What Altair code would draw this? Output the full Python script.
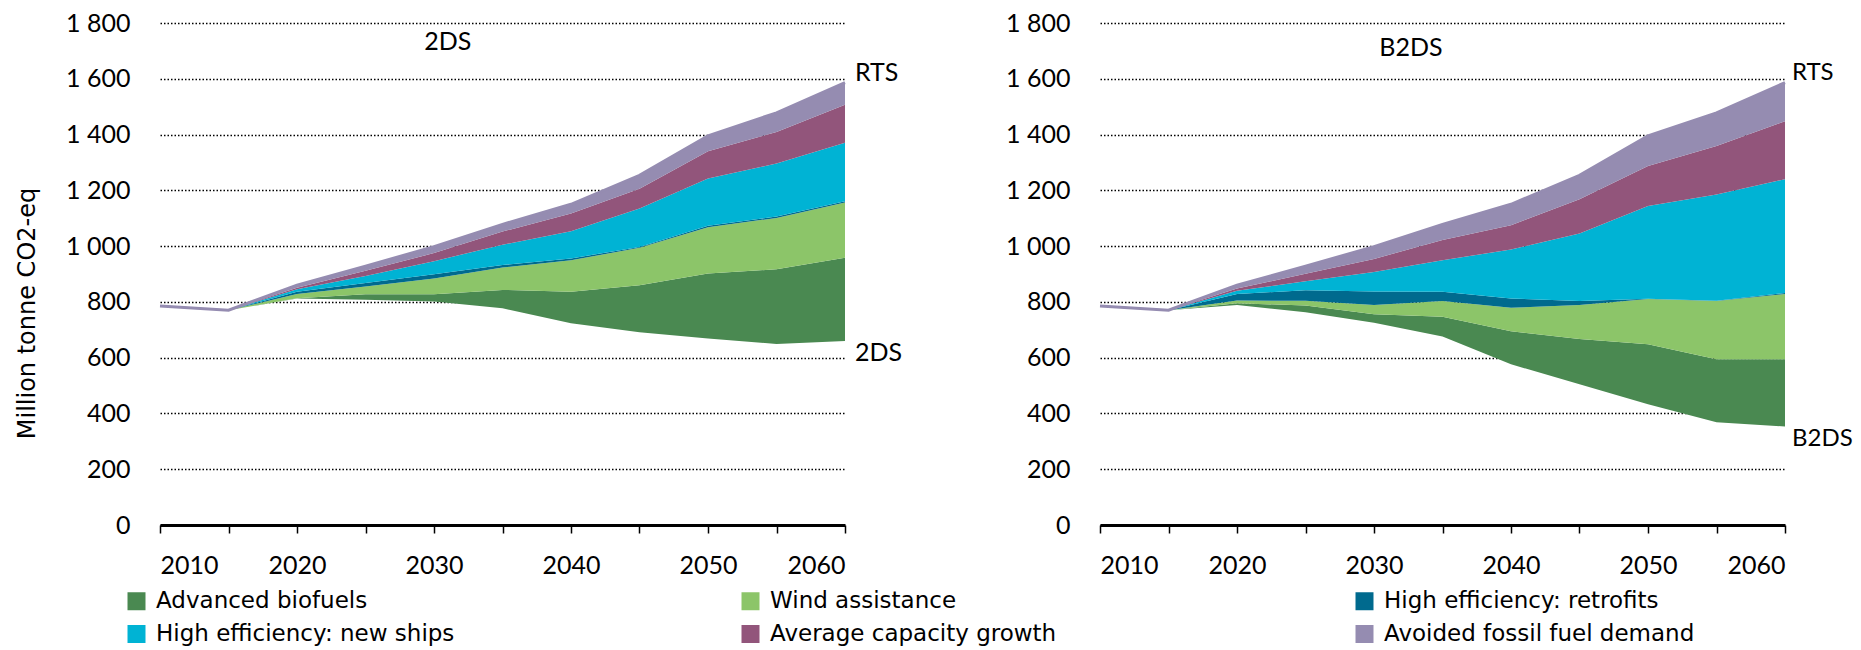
import altair as alt
import pandas as pd

years = [2010, 2015, 2020, 2025, 2030, 2035, 2040, 2045, 2050, 2055, 2060]
categories = ["Advanced biofuels", "Wind assistance", "High efficiency: retrofits",
              "High efficiency: new ships", "Average capacity growth",
              "Avoided  fossil fuel demand"]
colors = ["#4a8951", "#8cc569", "#006a8e", "#00b3d4", "#92557b", "#958cb1"]

rts = [785, 770, 860, 928, 998, 1078, 1150, 1254, 1395, 1478, 1586]

# 2DS panel: scenario line + wedges stacked on top of it
base_2ds = [785, 770, 812, 808, 801, 777, 723, 691, 669, 649, 660]
bio_2ds = [0, 0, 1, 19, 26, 66, 113, 169, 233, 268, 298]
wind_2ds = [0, 0, 15, 28, 57, 80, 113, 134, 166, 184, 198]
retro_2ds = [0, 0, 8, 13, 15, 9, 7, 3, 5, 5, 5]
new_2ds = [0, 0, 9, 25, 47, 73, 97, 138, 169, 190, 210]
cap_2ds = [0, 0, 6, 19, 29, 47, 64, 71, 98, 113, 136]
avoid_2ds = [0, 0, 9, 16, 23, 26, 33, 48, 55, 69, 79]

# B2DS panel
base_b2ds = [785, 770, 789, 763, 725, 676, 576, 505, 433, 368, 353]
bio_b2ds = [0, 0, 6, 24, 31, 71, 119, 162, 215, 226, 241]
wind_b2ds = [0, 0, 10, 17, 33, 56, 84, 122, 162, 209, 234]
retro_b2ds = [0, 0, 23, 38, 48, 33, 33, 14, 1, 1, 4]
new_b2ds = [0, 0, 12, 32, 70, 113, 176, 242, 333, 381, 408]
cap_b2ds = [0, 0, 8, 27, 47, 73, 87, 123, 143, 174, 208]
avoid_b2ds = [0, 0, 12, 27, 44, 56, 75, 86, 108, 119, 138]

# annotations (text, year, value)
ann_2ds_text = ["2DS", "RTS", "2DS"]
ann_2ds_year = [2031.0, 2060, 2060]
ann_2ds_val = [1732, 1620, 615]
ann_b2ds_text = ["B2DS", "RTS", "B2DS"]
ann_b2ds_year = [2032.7, 2060, 2060]
ann_b2ds_val = [1709, 1620, 307]

TICK_FONT = "Lato"
TICK_SIZE = 25
LEG_FONT = "DejaVu Sans"

W, H = 685, 502


def make_panel(base, series, ann_text, ann_year, ann_val, show_title, side_size, side_dx):
    rows = []
    for i, yr in enumerate(years):
        rows.append(dict(year=yr, cat="base", ord=0, val=base[i]))
        for k, (c, s) in enumerate(zip(categories, series)):
            rows.append(dict(year=yr, cat=c, ord=k + 1, val=s[i]))
    df = pd.DataFrame(rows)

    xaxis = alt.Axis(values=list(range(2010, 2061, 5)), format="d",
                     labelExpr="datum.value % 10 == 0 ? datum.label : ''",
                     title=None, grid=False, domainColor="black", domainWidth=3,
                     tickColor="black", tickWidth=1.5, tickSize=8,
                     labelPadding=20, labelFont=TICK_FONT, labelFontSize=TICK_SIZE,
                     labelColor="black")
    yaxis_kw = dict(values=list(range(0, 1801, 200)),
                    labelExpr="replace(format(datum.value, ','), ',', ' ')",
                    domain=False, ticks=False, grid=True, gridColor="black",
                    gridDash=[1.5, 2], gridWidth=1.4, labelPadding=30,
                    labelFont=TICK_FONT, labelFontSize=TICK_SIZE, labelColor="black")
    ytitle = "Million tonne CO2-eq" if show_title else None
    if show_title:
        yaxis = alt.Axis(title=ytitle, titleFont=LEG_FONT,
                         titleFontSize=24, titleFontWeight="normal", titleColor="black",
                         titlePadding=26, titleY=290, **yaxis_kw)
    else:
        yaxis = alt.Axis(title=None, **yaxis_kw)

    xs = alt.Scale(domain=[2010, 2060], nice=False)
    ys = alt.Scale(domain=[0, 1800], nice=False)

    areas = (
        alt.Chart(df)
        .transform_window(cum="sum(val)", groupby=["year"],
                          sort=[alt.SortField("ord")], frame=[None, 0])
        .transform_calculate(lo="datum.cum - datum.val")
        .transform_filter("datum.ord > 0")
        .mark_area(opacity=1)
        .encode(
            x=alt.X("year:Q", scale=xs, axis=xaxis),
            y=alt.Y("cum:Q", scale=ys, axis=yaxis, stack=None, title=ytitle),
            y2="lo:Q",
            color=alt.Color("cat:N", scale=alt.Scale(domain=categories, range=colors),
                            legend=alt.Legend(orient="none", legendX=-35, legendY=566.5,
                                              columns=3, direction="horizontal",
                                              title=None, symbolType="square",
                                              symbolSize=324, symbolStrokeWidth=0,
                                              labelFont=LEG_FONT, labelFontSize=23,
                                              labelColor="black", labelOffset=8,
                                              labelLimit=600, rowPadding=9,
                                              columnPadding=265, gridAlign="all")),
        )
    )

    line = (
        alt.Chart(pd.DataFrame({"year": years, "rts": rts}))
        .mark_line(color=colors[5], strokeWidth=3)
        .encode(x=alt.X("year:Q", scale=xs, axis=xaxis),
                y=alt.Y("rts:Q", scale=ys, axis=yaxis, title=ytitle))
    )

    adf = pd.DataFrame({"t": ann_text, "year": ann_year, "v": ann_val})
    title_txt = (
        alt.Chart(adf.iloc[:1])
        .mark_text(font=TICK_FONT, fontSize=TICK_SIZE, align="center", color="black")
        .encode(x=alt.X("year:Q", scale=xs), y=alt.Y("v:Q", scale=ys), text="t:N")
    )
    side_txt = (
        alt.Chart(adf.iloc[1:])
        .mark_text(font=TICK_FONT, fontSize=side_size, align="left", dx=side_dx,
                   color="black")
        .encode(x=alt.X("year:Q", scale=xs), y=alt.Y("v:Q", scale=ys), text="t:N")
    )

    return alt.layer(areas, line, title_txt, side_txt).properties(width=W, height=H)


left = make_panel(base_2ds, [bio_2ds, wind_2ds, retro_2ds, new_2ds, cap_2ds, avoid_2ds],
                  ann_2ds_text, ann_2ds_year, ann_2ds_val, True, 25, 10)
right = make_panel(base_b2ds, [bio_b2ds, wind_b2ds, retro_b2ds, new_b2ds, cap_b2ds, avoid_b2ds],
                   ann_b2ds_text, ann_b2ds_year, ann_b2ds_val, False, 24, 7)

chart = (
    alt.hconcat(left, right, spacing=102)
    .resolve_scale(color="shared")
    .properties(padding={"left": 7, "top": 3, "right": 0, "bottom": 0}, background="white")
    .configure(font=TICK_FONT)
    .configure_axis(titleFont=LEG_FONT, titleFontSize=24, titleFontWeight="normal")
    .configure_view(stroke=None)
)

chart.save("out.html", embed_options={"renderer": "svg", "actions": False})
